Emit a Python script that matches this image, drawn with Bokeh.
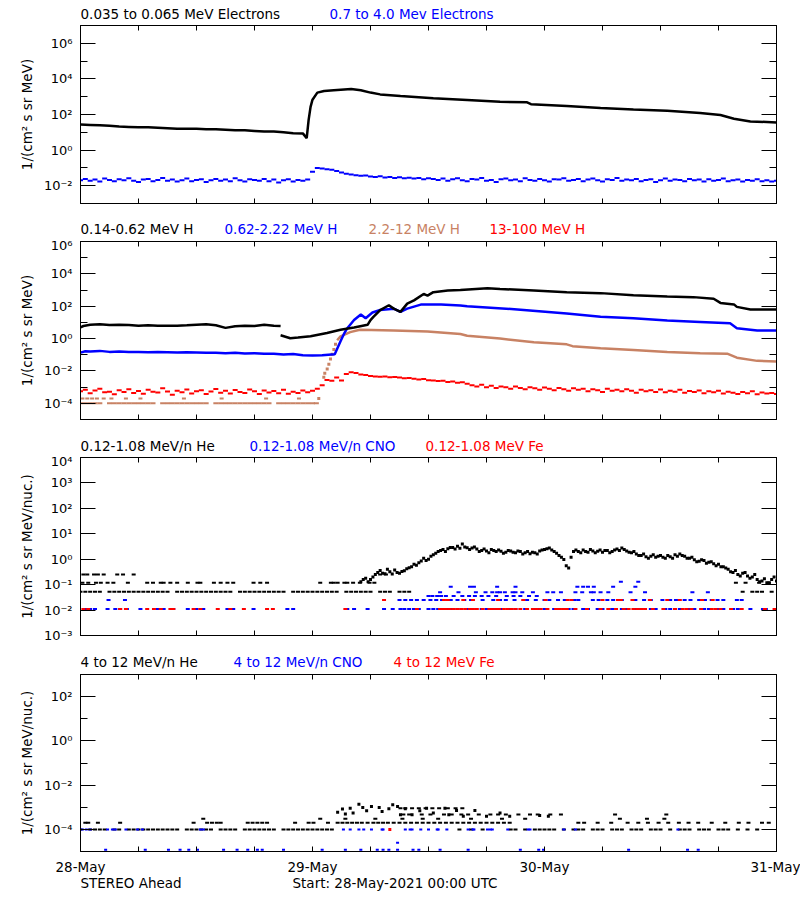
import numpy as np
from bokeh.plotting import figure
from bokeh.layouts import column
from bokeh.models import Range1d, FixedTicker, LogAxis, LinearAxis, Label, CustomLabelingPolicy
from bokeh.embed import file_html
from bokeh.resources import INLINE

FONT = "DejaVu Sans"
BLACK, BLUE, RED, BROWN = "#000000", "#0000FF", "#FF0000", "#C88264"

# ---------------- x axis (hours since 28-May-2021 00:00 UTC) ----------------
DAY_TICKS = [0, 24, 48, 72]
DAY_LABELS = ["28-May", "29-May", "30-May", "31-May"]
HOUR_TICKS = [6, 12, 18, 30, 36, 42, 54, 60, 66]

# ---------------- panel 1 : electrons ----------------
E_LO_T = [0, 1, 2, 3, 4, 5, 6, 7, 8, 9, 10, 11, 12, 13, 14, 15, 16, 17, 18, 19, 20, 21, 22, 23,
          23.4, 23.6, 23.8, 24.0, 24.5, 25.2, 26.2, 28, 29, 30, 31, 33.1, 36.5, 40, 43.4, 46.2,
          46.6, 50.3, 53.8, 57.2, 60.7, 64.1, 66.2, 67.6, 69.3, 72]
E_LO_V = [27, 26, 25, 23, 21, 20, 19, 19, 18, 17, 16, 16, 16, 15, 15, 14, 13, 13, 12, 11, 11, 10, 8.9, 8.7,
          4.7, 50, 270, 680, 1700, 2100, 2300, 2700, 2300, 1700, 1350, 1100, 810, 660, 520, 480,
          380, 300, 230, 190, 160, 120, 93, 58, 41, 36]
E_HI_STEP = 0.5
E_HI_V = [0.020, 0.024, 0.019, 0.022, 0.017, 0.025, 0.021, 0.018, 0.023, 0.020,
          0.026, 0.019, 0.016, 0.022, 0.024, 0.018, 0.021, 0.027, 0.019, 0.022,
          0.017, 0.020, 0.025, 0.018, 0.021, 0.023, 0.016, 0.020, 0.024, 0.019,
          0.022, 0.018, 0.026, 0.020, 0.017, 0.023, 0.021, 0.019, 0.024, 0.018,
          0.022, 0.015, 0.020, 0.023, 0.017, 0.021, 0.019,
          0.022, 0.060, 0.100, 0.092, 0.085, 0.078, 0.066, 0.055, 0.047, 0.042,
          0.039, 0.036, 0.038, 0.033, 0.031, 0.034, 0.029, 0.031, 0.027, 0.030,
          0.026, 0.028, 0.025, 0.027, 0.023, 0.026, 0.024,
          0.021, 0.025, 0.019, 0.023, 0.026, 0.020, 0.018, 0.024, 0.022, 0.027,
          0.019, 0.021, 0.016, 0.023, 0.025, 0.020, 0.022, 0.018, 0.026, 0.021,
          0.019, 0.024, 0.020, 0.017, 0.023, 0.022, 0.026, 0.019, 0.021, 0.024,
          0.018, 0.022, 0.025, 0.020, 0.017, 0.023, 0.021, 0.027, 0.019, 0.022,
          0.020, 0.024, 0.018, 0.021, 0.023, 0.016, 0.020, 0.025, 0.019, 0.022,
          0.021, 0.018, 0.024, 0.020, 0.022, 0.017, 0.023, 0.019, 0.021, 0.025,
          0.018, 0.020, 0.022, 0.017, 0.021, 0.019, 0.023, 0.018, 0.020, 0.017, 0.019]

# ---------------- panel 2 : protons ----------------
HP_A_T = [0, 0.3, 1, 2, 3, 4, 5, 6, 7, 8, 9, 10, 11, 12, 13, 14, 15, 16, 17, 18, 19, 20, 20.7]
HP_A_V = [5.0, 6.0, 7.1, 7.6, 6.8, 7.2, 6.9, 6.3, 6.6, 6.3, 6.2, 6.3, 6.6, 7.2, 7.6, 6.6, 4.6, 5.8,
          6.3, 6.0, 7.1, 6.3, 6.0]
HP_B_T = [20.7, 21.7, 22.5, 23.8, 25.5, 26.9, 28.3, 29.7, 30.0, 30.3, 31.0, 31.9, 32.4, 33.1, 33.8,
          34.5, 35.5, 35.9, 36.5, 38.0, 39.3, 42.1, 43.4, 46.9, 50.3, 53.8, 57.2, 60.7, 63.4, 65.5,
          66.2, 67.6, 67.9, 69.3, 72]
HP_B_V = [1.6, 1.05, 1.15, 1.4, 2.2, 3.5, 4.9, 7.1, 14, 22, 58, 115, 71, 45, 145,
          230, 575, 450, 740, 930, 1000, 1290, 1175, 930, 740, 645, 470, 400, 365, 290,
          160, 130, 91, 63, 63]
HB_T = [0, 0.5, 1, 2, 3, 4, 5, 6, 7, 8, 9, 10, 11, 12, 13, 14, 15, 16, 17, 18, 19, 20, 21, 22, 23, 24, 25,
        26.3, 26.6, 26.9, 27.3, 27.6, 28.3, 29.0, 29.5, 30.2, 31.0, 32.4, 33.1, 33.8, 35.2, 37.3,
        39.3, 40.0, 45.2, 50.3, 53.8, 57.2, 60.7, 64.1, 67.2, 67.9, 70.0, 72]
HB_V = [0.135, 0.166, 0.158, 0.174, 0.151, 0.158, 0.148, 0.151, 0.141, 0.148, 0.145, 0.138, 0.141,
        0.138, 0.132, 0.135, 0.126, 0.132, 0.120, 0.126, 0.115, 0.117, 0.105, 0.110, 0.095, 0.091, 0.095,
        0.107, 0.27, 0.69, 2.2, 4.4, 14, 31, 18, 41, 58, 71, 45, 71, 126, 126,
        110, 100, 63, 35, 22, 18, 13, 10.7, 8.9, 4.4, 3.2, 3.2]
HS_LO_T = [0, 0.5, 1, 1.5, 2, 3, 3.5, 4, 4.5, 5, 5.5, 6, 6.5, 7, 7.5, 8.5, 9, 9.5, 10, 10.5, 11, 11.5, 12,
           12.5, 13, 14, 14.5, 15, 15.5, 16, 16.5, 17, 17.5, 18, 18.5, 19, 19.5, 20.5, 21, 21.5, 22, 22.5,
           23, 23.5, 24, 24.4]
HS_LO = 1e-4
HS_HI_T = [0.2, 0.7, 1.2, 1.7, 2.4, 3.2, 4.7, 6.2, 10.7, 14.6, 19.2, 22.6]
HS_HI = 2e-4
HS_RISE_T = [24.65, 25.17, 25.27, 25.52, 25.69, 25.86, 26.04, 26.21, 26.38]
HS_RISE_V = [2.0e-4, 4.1e-3, 7.2e-3, 1.3e-2, 2.6e-2, 5.4e-2, 0.107, 0.214, 0.44]
HS_T = [26.55, 26.9, 27.9, 28.9, 32.4, 35.9, 39.3, 40.0, 43.4, 46.9, 50.3, 50.9, 53.8, 57.2, 60.7,
        64.1, 66.9, 67.9, 70.0, 72]
HS_V = [0.79, 1.38, 2.5, 3.5, 3.2, 2.75, 1.9, 1.5, 1.0, 0.60, 0.44, 0.34, 0.25, 0.195, 0.148,
        0.123, 0.117, 0.066, 0.042, 0.038]
HR_STEP = 0.5
HR_V = [5.5e-4, 7.0e-4, 4.2e-4, 6.1e-4, 8.0e-4, 4.8e-4, 5.2e-4, 3.6e-4, 6.5e-4, 5.0e-4,
        7.5e-4, 4.4e-4, 5.8e-4, 3.9e-4, 6.8e-4, 5.1e-4, 4.6e-4, 8.5e-4, 5.4e-4, 3.4e-4,
        6.0e-4, 4.9e-4, 7.2e-4, 4.1e-4, 5.6e-4, 6.4e-4, 3.8e-4, 5.3e-4, 7.8e-4, 4.5e-4,
        5.9e-4, 4.0e-4, 6.6e-4, 5.0e-4, 4.3e-4, 7.1e-4, 5.5e-4, 3.7e-4, 6.2e-4, 4.7e-4,
        5.8e-4, 4.2e-4, 6.9e-4, 3.9e-4, 5.1e-4, 4.4e-4, 6.3e-4, 4.8e-4, 6.0e-4,
        8.0e-4, 1.3e-3, 2.8e-3, 2.5e-3, 4.0e-3, 2.6e-3, 6.5e-3, 8.3e-3, 7.5e-3, 6.0e-3,
        5.6e-3, 4.8e-3, 4.6e-3, 4.4e-3, 4.5e-3, 4.1e-3, 4.3e-3, 3.9e-3, 3.5e-3, 3.7e-3,
        3.3e-3, 3.0e-3, 3.2e-3, 2.7e-3, 2.6e-3, 2.4e-3, 2.5e-3, 2.1e-3, 2.2e-3, 1.9e-3,
        2.0e-3, 1.6e-3,
        1.3e-3, 1.1e-3, 1.4e-3, 1.0e-3, 1.2e-3, 0.9e-3, 1.1e-3, 1.0e-3, 0.8e-3, 1.1e-3,
        0.9e-3, 0.75e-3, 1.0e-3, 0.85e-3, 0.7e-3, 0.95e-3, 0.8e-3, 0.65e-3, 0.9e-3, 0.75e-3,
        0.6e-3, 0.85e-3, 0.7e-3, 0.8e-3, 0.55e-3, 0.75e-3, 0.65e-3, 0.5e-3, 0.8e-3, 0.6e-3,
        0.7e-3, 0.55e-3, 0.75e-3, 0.6e-3, 0.45e-3, 0.7e-3, 0.55e-3, 0.65e-3, 0.5e-3, 0.72e-3,
        0.48e-3, 0.6e-3, 0.52e-3, 0.68e-3, 0.45e-3, 0.58e-3, 0.5e-3, 0.62e-3, 0.42e-3, 0.55e-3,
        0.48e-3, 0.6e-3, 0.4e-3, 0.52e-3, 0.45e-3, 0.38e-3, 0.5e-3, 0.42e-3, 0.55e-3, 0.36e-3,
        0.46e-3, 0.4e-3, 0.44e-3, 0.38e-3]

# ---------------- panel 3 : 0.12-1.08 MeV/n ions ----------------
HE_LEVELS = [0.053, 0.12, 0.25]
HE_LEVEL_T = [
    [0, 0.5, 1, 1.5, 2, 3, 3.5, 4, 4.5, 5, 5.5, 6, 6.5, 7, 7.5, 8, 8.5, 9, 10, 10.5, 11, 11.5, 12, 12.5,
     13, 13.5, 14, 14.5, 15, 15.5, 16.5, 17, 17.5, 18, 18.5, 19, 19.5, 20, 20.5, 21, 22, 22.5, 23, 23.5,
     24, 24.5, 25, 25.5, 26, 26.5, 27.5, 28, 28.5, 29, 29.5, 30, 31, 31.5, 32, 33, 33.5, 34,
     68.5, 69.5, 70, 70.5, 71.5],
    [0.2, 0.8, 1.6, 2.1, 2.8, 3.4, 4.9, 6.9, 7.5, 8.3, 8.6, 9.3, 10.0, 11.1, 12.1, 12.4, 13.8, 14.5,
     15.2, 15.8, 17.9, 18.6, 19.3, 24.8, 25.9, 26.2, 26.6, 27.3, 27.6, 28.2, 28.9, 29.9, 30.4,
     67.8, 68.8, 70.2, 71.2],
    [0.3, 0.7, 1.4, 1.8, 2.4, 3.8, 4.4, 5.5, 31.0, 31.6]]
HE_EV_START, HE_EV2_START, HE_EV_STEP = 29.0, 29.25, 0.5
HE_EV_V = [0.13, 0.18, 0.16, 0.25, 0.36, 0.27, 0.32, 0.38, 0.28, 0.35,
           0.46, 0.63, 0.72, 1.1, 1.0, 1.5, 2.0, 2.4, 2.6, 2.9,
           3.2, 4.0, 2.8, 2.75, 2.5, 2.2, 2.1, 2.4, 2.0, 2.05,
           1.9, 2.1, 1.8, 2.0, 1.8, 1.65, 1.8, 2.1, 2.4, 2.75,
           2.0, 1.4, 0.98, 0.45, 2.0, 2.0, 2.3, 1.9, 2.1, 2.05,
           1.9, 2.2, 2.0, 2.5, 2.75, 2.1, 1.8, 1.6, 1.4, 1.26,
           1.3, 1.2, 1.4, 1.1, 1.26, 1.5, 1.6, 1.3, 1.1, 0.95,
           0.83, 0.9, 0.76, 0.66, 0.63, 0.5, 0.4, 0.3, 0.25, 0.28,
           0.22, 0.2, 0.16, 0.14, 0.12, 0.16, 0.14]
HE_EV2_V = [0.16, 0.13, 0.2, 0.3, 0.28, 0.4, 0.26, 0.3, 0.33, 0.42,
            0.5, 0.58, 0.85, 0.9, 1.3, 1.7, 2.2, 2.0, 2.9, 2.5,
            2.7, 3.0, 2.4, 3.0, 2.0, 2.5, 1.8, 2.2, 2.3, 1.7,
            2.2, 1.9, 2.1, 1.6, 2.0, 1.9, 1.6, 2.3, 2.6, 2.3,
            1.7, 1.2, 0.55, 1.2, 2.3, 1.8, 2.0, 2.4, 1.8, 2.3,
            2.2, 1.8, 2.3, 2.2, 2.4, 1.9, 2.0, 1.4, 1.6, 1.1,
            1.5, 1.3, 1.2, 1.4, 1.1, 1.3, 1.4, 1.1, 1.2, 0.8,
            0.95, 0.7, 0.8, 0.55, 0.5, 0.45, 0.32, 0.36, 0.22, 0.3,
            0.18, 0.25, 0.13, 0.17, 0.12, 0.2]
CNO_LEVELS = [0.011, 0.025, 0.036, 0.05, 0.083, 0.13]
CNO_LEVEL_T = [
    [0.5, 1.0, 1.5, 2.8, 3.6, 4.1, 4.8, 6.2, 8.0, 8.6, 9.6, 11.1, 12.0, 12.7, 15.2, 15.8, 17.9, 21.4,
     22.0, 27.6, 28.3, 29.7, 31.4, 32.3, 33.1, 33.5, 34, 34.5, 35, 36, 36.5, 37, 38, 38.5, 39, 40,
     40.5, 41.5, 42, 43, 43.5, 44.5, 45, 46, 47, 47.5, 48, 49, 49.5, 50.5, 51, 52, 52.5, 53.5, 54,
     55, 56, 56.5, 57.5, 58, 59, 59.5, 60.5, 61, 62, 63, 63.5, 64.5, 65, 66, 66.5, 67.5, 68, 69.3,
     70.6, 70.9],
    [2.9, 4.6, 33.0, 33.6, 34.2, 34.8, 35.5, 36.2, 36.8, 37.4, 38.3, 39.0, 39.7, 40.4, 41.6, 42.7,
     43.4, 44.0, 44.9, 46.2, 47.1, 48.0, 48.5, 49.4, 50.1, 51.1, 51.5, 53.0, 53.6, 54.5, 55.1, 56.0,
     57.4, 58.3, 59.0, 60.2, 61.0, 61.6, 62.5, 63.1, 64.0, 64.6, 65.3, 65.9, 66.5, 67.9, 68.4],
    [36.0, 36.4, 36.9, 37.3, 37.8, 38.6, 39.5, 40.2, 40.8, 41.5, 42.2, 43.0, 44.1, 44.8, 45.5, 46.4,
     47.2],
    [37.2, 39.1, 40.9, 41.9, 42.6, 43.1, 43.4, 43.9, 44.7, 45.0, 45.7, 46.8, 48.3, 48.9, 49.7, 51.2,
     51.9, 52.8, 53.1, 53.8, 54.6, 56.9, 58.4, 63.3, 64.9],
    [38.3, 40.3, 40.7, 43.1, 45.0, 51.4, 52.0, 52.5, 53.1, 55.1, 57.4],
    [55.9, 57.7]]
FE_LEVELS = [0.011, 0.025]
FE_LEVEL_T = [
    [0.3, 0.8, 4.1, 4.7, 6.9, 7.6, 8.3, 9.3, 9.6, 11.7, 12.4, 14.2, 15.5, 16.9, 19.3, 19.9, 27.4,
     34.8, 37.2, 37.5, 37.8, 38.2, 38.6, 39.0, 39.4, 39.8, 40.3, 40.6, 41.0, 41.6, 42.3, 42.6, 43.0,
     43.3, 43.8, 44.2, 44.6, 45.0, 45.5, 46.2, 46.8, 47.2, 47.6, 48.3, 49.2, 49.6, 50.0, 50.3, 51.2,
     52.4, 53.8, 54.6, 55.4, 56.2, 56.7, 57.2, 57.6, 58.0, 58.4, 59.2, 60.3, 61.5, 62.3, 62.7, 63.2,
     64.2, 65.3, 65.7, 66.2, 67.3, 68.4, 70.8, 71.8],
    [31.4, 37.6, 38.0, 39.6, 40.6, 43.2, 45.8, 48.1, 50.4, 50.8, 54.0, 55.6, 55.9, 57.1, 58.9, 60.7,
     62.0, 64.3, 65.4]]

# ---------------- panel 4 : 4-12 MeV/n ions ----------------
HE4_LEVELS = [1e-4, 2e-4, 3e-4, 4.7e-4, 9e-4]
HE4_LEVEL_T = [
    [0, 1, 1.5, 2, 2.5, 3.5, 4, 5, 5.5, 6, 6.5, 7, 7.5, 8, 8.5, 9, 9.5, 10, 11, 11.5, 12, 12.5, 13, 13.5,
     14.5, 15, 15.5, 16, 17, 17.5, 18, 18.5, 19, 19.5, 20, 21, 21.5, 22, 22.5, 23, 23.5, 24, 24.5, 25,
     25.5, 26, 39.2, 40.4, 41.6, 44.5, 45, 46, 47, 47.5, 48, 48.5, 49, 50, 51, 51.5, 52, 53, 53.5, 54,
     55, 55.5, 56, 57, 57.5, 58, 59, 59.5, 60, 61, 62, 62.5, 63, 64, 64.5, 65, 66, 66.5, 67, 68, 69, 70],
    [0.5, 0.8, 1.8, 4.1, 11.7, 13.1, 13.6, 14.1, 14.5, 17.3, 17.8, 18.3, 18.8, 19.3, 22.2, 23.6, 24.1,
     25.6, 26.6, 27.1, 27.6, 28.1, 28.6, 29.1, 29.7, 30.3, 30.8, 31.3, 31.8, 32.4, 33.0, 33.6, 34.2,
     34.8, 35.4, 36.0, 36.6, 37.2, 37.8, 38.4, 39.0, 39.6, 40.2, 40.8, 41.4, 42.0, 42.6, 43.2, 43.8,
     44.4, 51.5, 52.1, 53.5, 54.9, 56.6, 57.7, 58.7, 59.8, 60.8, 61.9, 62.9, 63.9, 65.3, 66.7, 68.1,
     69.1, 70.5, 71.2],
    [12.7, 24.8, 27.4, 30.5, 33.3, 35.4, 37.0, 40.4, 43.6, 46.0, 55.8, 58.6, 60.4],
    [33.4, 34.0, 35.3, 36.2, 37.6, 38.4, 39.4, 40.1, 41.2, 42.4, 43.2, 44.0, 45.3, 46.5, 47.3, 48.6,
     49.7, 55.3, 60.6],
    [33.1, 33.6, 34.3, 35.0, 35.7, 36.4, 37.1, 38.0, 38.8, 39.5]]
HE4_EV_T = [26.6, 27.1, 27.4, 27.9, 28.2, 28.8, 29.2, 29.6, 30.1, 30.9, 31.2, 31.9, 32.3, 32.8, 33.1,
            33.6, 34.3, 35.1, 35.8, 36.5, 37.7, 38.1, 38.9, 39.6, 40.8, 42.0, 43.4, 44.4, 47.5, 48.4]
HE4_EV_V = [6.0e-4, 8.3e-4, 4.9e-4, 9.1e-4, 5.5e-4, 1.38e-3, 9.8e-4, 6.9e-4, 1.07e-3, 9.8e-4,
            6.5e-4, 8.5e-4, 1.29e-3, 1.07e-3, 4.6e-4, 8.5e-4, 4.6e-4, 6.9e-4, 9.1e-4, 5.5e-4,
            9.1e-4, 4.6e-4, 7.2e-4, 3.9e-4, 7.2e-4, 3.9e-4, 5.5e-4, 3.9e-4, 4.2e-4, 3.9e-4]
CNO4_LEVELS = [1e-4, 1.2e-5, 2.5e-5]
CNO4_LEVEL_T = [
    [0.2, 0.6, 1.0, 2.8, 3.3, 3.6, 4.7, 5.9, 6.4, 12.4, 12.7, 27.2, 27.9, 28.8, 29.3, 30.1, 31.2,
     31.3, 33.6, 34.1, 34.3, 35.2, 36.0, 36.9, 37.0, 37.9, 40.1, 40.6, 40.7, 42.1, 42.4, 42.6, 44.2,
     46.3, 46.5, 50.0, 51.2, 61.8],
    [2.6, 6.7, 9.1, 10.3, 11.2, 12.1, 14.8, 16.2, 17.3, 18.3, 18.8, 21.0, 25.0, 27.4, 29.0, 30.7,
     31.3, 31.9, 32.8, 34.4, 35.0, 37.2, 40.1, 45.5, 47.4, 47.9, 56.7, 62.8, 63.9],
    [32.8]]
FE4_T = [32.0]
FE4_V = [1e-4]

SUP = str.maketrans("-0123456789", "\u207b\u2070\u00b9\u00b2\u00b3\u2074\u2075\u2076\u2077\u2078\u2079")


def pow_label(e):
    return "10" + str(e).translate(SUP)


def no_labels():
    return CustomLabelingPolicy(code="const all = [...indices]; for (const i of all) { indices.unset(i) }; return indices")


def style_axis(ax, tin, mtin):
    ax.major_tick_in = tin
    ax.major_tick_out = 0
    ax.minor_tick_in = mtin
    ax.minor_tick_out = 0
    ax.axis_line_color = "black"
    ax.major_tick_line_color = "black"
    ax.minor_tick_line_color = "black"


def hide_labels(ax):
    ax.major_label_text_font_size = "2px"
    ax.major_label_standoff = 0
    ax.major_label_policy = no_labels()


def text_strip(height, text_top, items, date_row=0):
    """A frameless strip of text sharing the panels' x scale (hours).
    If date_row > 0, the day labels are drawn as an axis in a border of that height above the strip."""
    frame_h = height - date_row
    s = figure(width=800, height=height, x_range=Range1d(0, 72), y_range=Range1d(0, frame_h),
               output_backend="svg", toolbar_location=None,
               x_axis_location="above" if date_row else None, y_axis_location=None,
               min_border_left=80, min_border_right=24, min_border_top=date_row, min_border_bottom=0)
    s.outline_line_color = None
    s.grid.visible = False
    s.background_fill_color = "white"
    s.border_fill_color = "white"
    if date_row:
        ax = s.xaxis[0]
        ax.ticker = FixedTicker(ticks=DAY_TICKS, minor_ticks=[])
        ax.major_label_overrides = dict(zip(DAY_TICKS, DAY_LABELS))
        ax.major_label_text_font = FONT
        ax.major_label_text_font_size = "13.5px"
        ax.major_label_text_color = "black"
        ax.major_label_standoff = 0
        ax.major_tick_in = 0
        ax.major_tick_out = 0
        ax.minor_tick_in = 0
        ax.minor_tick_out = 0
        ax.axis_line_color = None
        ax.major_tick_line_color = None
        ax.minor_tick_line_color = None
    for x, txt, col in items:
        s.add_layout(Label(x=x, y=frame_h - text_top, text=txt, text_color=col, text_font=FONT,
                           text_font_size="13.5px", text_baseline="top", text_align="left"))
    return s


def panel(height, top, bottom, ylo, yhi, major, minor, ylabel):
    p = figure(width=800, height=height, x_range=Range1d(0, 72),
               y_range=Range1d(10.0 ** ylo, 10.0 ** yhi), y_axis_type="log",
               output_backend="svg", toolbar_location=None,
               min_border_left=80, min_border_right=24,
               min_border_top=top, min_border_bottom=bottom)
    p.xgrid.visible = False
    p.ygrid.visible = False
    p.outline_line_color = "black"
    p.outline_line_alpha = 1.0
    p.background_fill_color = "white"
    p.border_fill_color = "white"
    yt = FixedTicker(ticks=[10.0 ** e for e in major], minor_ticks=[10.0 ** e for e in minor])
    xt = FixedTicker(ticks=DAY_TICKS, minor_ticks=HOUR_TICKS)
    ya = p.yaxis[0]
    ya.ticker = yt
    ya.major_label_overrides = {10.0 ** e: pow_label(e) for e in major}
    style_axis(ya, 15, 7)
    ya.major_label_text_font = FONT
    ya.major_label_text_font_size = "13px"
    ya.major_label_text_color = "black"
    ya.major_label_standoff = 8
    ya.axis_label = ylabel
    ya.axis_label_text_font = FONT
    ya.axis_label_text_font_size = "13.5px"
    ya.axis_label_text_font_style = "normal"
    ya.axis_label_text_color = "black"
    ya.axis_label_standoff = 6
    ra = LogAxis(ticker=yt)
    style_axis(ra, 15, 7)
    hide_labels(ra)
    p.add_layout(ra, "right")
    xa = p.xaxis[0]
    xa.ticker = xt
    style_axis(xa, 5, 5)
    hide_labels(xa)
    ta = LinearAxis(ticker=xt)
    style_axis(ta, 5, 5)
    hide_labels(ta)
    p.add_layout(ta, "above")
    return p


def steps(start, step, vals):
    return start + step * np.arange(len(vals))


def dots(p, t, v, color, size=5, marker="dash", lw=2):
    if marker == "dash":
        p.scatter(t, v, marker="dash", size=size, line_color=color, line_width=lw)
    else:
        p.scatter(t, v, marker="square", size=size, fill_color=color, line_color=color, line_width=0)


def levels(p, lv, lt, color, size=5):
    for lvl, tt in zip(lv, lt):
        dots(p, tt, [lvl] * len(tt), color, size=size)


YL1 = "1/(cm\u00b2 s sr MeV)"
YL2 = "1/(cm\u00b2 s sr MeV/nuc.)"

# panel 1
t1 = text_strip(21, 5, [(0, "0.035 to 0.065 MeV Electrons", BLACK), (25.76, "0.7 to 4.0 Mev Electrons", BLUE)])
p1 = panel(195, 2, 13, -3, 7, [-2, 0, 2, 4, 6], [-1, 1, 3, 5], YL1)
dots(p1, steps(0.0, E_HI_STEP, E_HI_V), E_HI_V, BLUE, size=5)
p1.line(E_LO_T, E_LO_V, line_color=BLACK, line_width=2.5)

# panel 2
t2 = text_strip(21, 4, [(0, "0.14-0.62 MeV H", BLACK), (14.9, "0.62-2.22 MeV H", BLUE),
                        (29.8, "2.2-12 MeV H", BROWN), (42.3, "13-100 MeV H", RED)])
p2 = panel(195, 2, 13, -5, 6, [-4, -2, 0, 2, 4, 6], [-3, -1, 1, 3, 5], YL1)
dots(p2, steps(0.0, HR_STEP, HR_V), HR_V, RED, size=5)
dots(p2, HS_LO_T, [HS_LO] * len(HS_LO_T), BROWN, size=5)
dots(p2, HS_HI_T, [HS_HI] * len(HS_HI_T), BROWN, size=4)
dots(p2, HS_RISE_T, HS_RISE_V, BROWN, size=3, marker="square")
p2.line(HS_T, HS_V, line_color=BROWN, line_width=2.5)
p2.line(HB_T, HB_V, line_color=BLUE, line_width=2.5)
p2.line(HP_A_T, HP_A_V, line_color=BLACK, line_width=2.5)
p2.line(HP_B_T, HP_B_V, line_color=BLACK, line_width=2.5)

# panel 3
t3 = text_strip(21, 5, [(0, "0.12-1.08 MeV/n He", BLACK), (17.48, "0.12-1.08 MeV/n CNO", BLUE),
                        (35.69, "0.12-1.08 MeV Fe", RED)])
p3 = panel(195, 2, 13, -3, 4, [-3, -2, -1, 0, 1, 2, 3, 4], [], YL2)
levels(p3, CNO_LEVELS, CNO_LEVEL_T, BLUE, size=4)
levels(p3, FE_LEVELS, FE_LEVEL_T, RED, size=4)
levels(p3, HE_LEVELS, HE_LEVEL_T, BLACK, size=4)
dots(p3, steps(HE_EV_START, HE_EV_STEP, HE_EV_V), HE_EV_V, BLACK, size=3, marker="square")
dots(p3, steps(HE_EV2_START, HE_EV_STEP, HE_EV2_V), HE_EV2_V, BLACK, size=3, marker="square")

# panel 4
t4 = text_strip(22, 5, [(0, "4 to 12 MeV/n He", BLACK), (15.83, "4 to 12 MeV/n CNO", BLUE),
                        (32.38, "4 to 12 MeV Fe", RED)])
p4 = panel(185, 2, 3, -5, 3, [-4, -2, 0, 2], [-3, -1, 1], YL2)
levels(p4, HE4_LEVELS, HE4_LEVEL_T, BLACK, size=4)
dots(p4, HE4_EV_T, HE4_EV_V, BLACK, size=3, marker="square")
levels(p4, CNO4_LEVELS, CNO4_LEVEL_T, BLUE, size=3)
dots(p4, FE4_T, FE4_V, RED, size=3, marker="square")

# day labels under the last panel, then the footer line
t5 = text_strip(45, 0, [(0, "STEREO Ahead", BLACK), (21.93, "Start: 28-May-2021 00:00 UTC", BLACK)],
                date_row=17)

layout = column(t1, p1, t2, p2, t3, p3, t4, p4, t5, spacing=0)
open("out.html", "w").write(file_html(layout, INLINE))
